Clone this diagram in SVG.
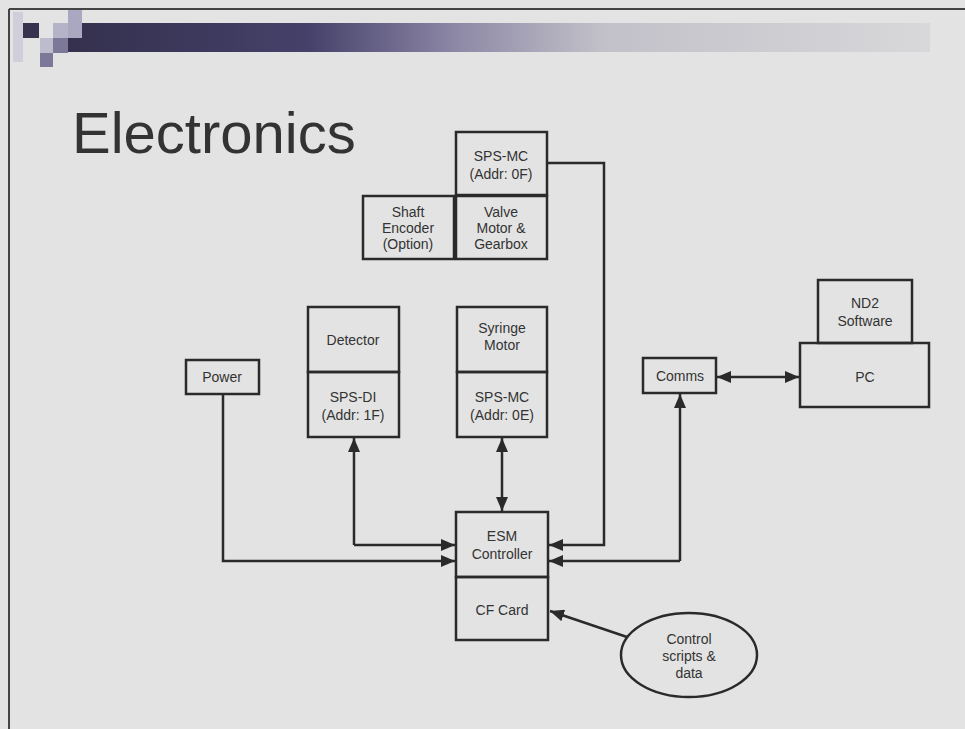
<svg xmlns="http://www.w3.org/2000/svg" width="965" height="729" viewBox="0 0 965 729">
<defs>
<linearGradient id="bar" x1="0" y1="0" x2="1" y2="0">
<stop offset="0" stop-color="#34304d"/>
<stop offset="0.28" stop-color="#45416a"/>
<stop offset="0.45" stop-color="#8d88a6"/>
<stop offset="0.62" stop-color="#c2c1c9"/>
<stop offset="1" stop-color="#d8d8da"/>
</linearGradient>
<marker id="ah" markerUnits="userSpaceOnUse" markerWidth="14" markerHeight="12" viewBox="0 0 14 12" refX="14" refY="6" orient="auto-start-reverse">
<path d="M0,0 L14,6 L0,12 z" fill="#2a2a2a"/>
</marker>
<style>
.box{fill:none;stroke:#2a2a2a;stroke-width:2.5}
.t{font-family:"Liberation Sans",Arial,sans-serif;font-size:14px;fill:#333;text-anchor:middle}
.c{fill:none;stroke:#2a2a2a;stroke-width:2.5}
</style>
</defs>
<rect width="965" height="729" fill="#e3e3e3"/>
<g id="frame">
<line x1="9" y1="9" x2="965" y2="9" stroke="#444" stroke-width="2"/>
<line x1="9" y1="9" x2="9" y2="729" stroke="#444" stroke-width="2"/>
</g>
<g id="header">
<rect x="68" y="23" width="862" height="29" fill="url(#bar)"/>
<rect x="13" y="12" width="10" height="50" fill="#cfcfdb"/>
<rect x="23" y="23" width="16" height="15" fill="#37334f"/>
<rect x="53" y="23" width="15" height="15" fill="#b4b3c8"/>
<rect x="68" y="10" width="14" height="28" fill="#a9a8c0"/>
<rect x="40" y="38" width="13" height="15" fill="#bdbccd"/>
<rect x="53" y="38" width="15" height="15" fill="#7b7898"/>
<rect x="40" y="53" width="13" height="14" fill="#7b7898"/>
</g>
<text x="72" y="153" font-family="Liberation Sans, Arial, sans-serif" font-size="58" fill="#333">Electronics</text>
<g id="sps-mc-0f"><rect class="box" x="456" y="132" width="91" height="63"/><text class="t" x="501" y="161">SPS-MC</text><text class="t" x="501" y="179">(Addr: 0F)</text></g>
<g id="shaft-encoder"><rect class="box" x="363" y="196" width="91" height="63"/><text class="t" x="408" y="217">Shaft</text><text class="t" x="408" y="233">Encoder</text><text class="t" x="408" y="249">(Option)</text></g>
<g id="valve-motor"><rect class="box" x="456" y="196" width="91" height="63"/><text class="t" x="501" y="217">Valve</text><text class="t" x="501" y="233">Motor &amp;</text><text class="t" x="501" y="249">Gearbox</text></g>
<g id="power"><rect class="box" x="186" y="360" width="73" height="34"/><text class="t" x="222" y="382">Power</text></g>
<g id="detector"><rect class="box" x="308" y="307" width="91" height="65"/><text class="t" x="353" y="345">Detector</text></g>
<g id="sps-di"><rect class="box" x="308" y="372" width="91" height="65"/><text class="t" x="353" y="402">SPS-DI</text><text class="t" x="353" y="420">(Addr: 1F)</text></g>
<g id="syringe-motor"><rect class="box" x="457" y="307" width="90" height="65"/><text class="t" x="502" y="333">Syringe</text><text class="t" x="502" y="350">Motor</text></g>
<g id="sps-mc-0e"><rect class="box" x="457" y="372" width="90" height="65"/><text class="t" x="502" y="402">SPS-MC</text><text class="t" x="502" y="420">(Addr: 0E)</text></g>
<g id="comms"><rect class="box" x="643" y="358" width="73" height="35"/><text class="t" x="680" y="381">Comms</text></g>
<g id="nd2-software"><rect class="box" x="818" y="280" width="94" height="63"/><text class="t" x="865" y="308">ND2</text><text class="t" x="865" y="326">Software</text></g>
<g id="pc"><rect class="box" x="800" y="343" width="129" height="64"/><text class="t" x="865" y="382">PC</text></g>
<g id="esm-controller"><rect class="box" x="456" y="512" width="92" height="65"/><text class="t" x="502" y="541">ESM</text><text class="t" x="502" y="559">Controller</text></g>
<g id="cf-card"><rect class="box" x="456" y="577" width="92" height="63"/><text class="t" x="502" y="615">CF Card</text></g>
<g id="control-scripts"><ellipse cx="689" cy="655" rx="68" ry="42" fill="none" stroke="#2a2a2a" stroke-width="2.5"/><text class="t" x="689" y="644">Control</text><text class="t" x="689" y="661">scripts &amp;</text><text class="t" x="689" y="678">data</text></g>
<g id="connectors">
<path class="c" d="M223,394 V561 H455" marker-end="url(#ah)"/>
<path class="c" d="M354,545 H455" marker-end="url(#ah)"/>
<path class="c" d="M354,545 V438" marker-end="url(#ah)"/>
<path class="c" d="M502,438 V511" marker-start="url(#ah)" marker-end="url(#ah)"/>
<path class="c" d="M547,163 H604 V545 H549" marker-end="url(#ah)"/>
<path class="c" d="M680,561 H549" marker-end="url(#ah)"/>
<path class="c" d="M680,561 V394" marker-end="url(#ah)"/>
<path class="c" d="M717,377 H799" marker-start="url(#ah)" marker-end="url(#ah)"/>
<path class="c" d="M627,637 L550,611" marker-end="url(#ah)"/>
</g>
</svg>
